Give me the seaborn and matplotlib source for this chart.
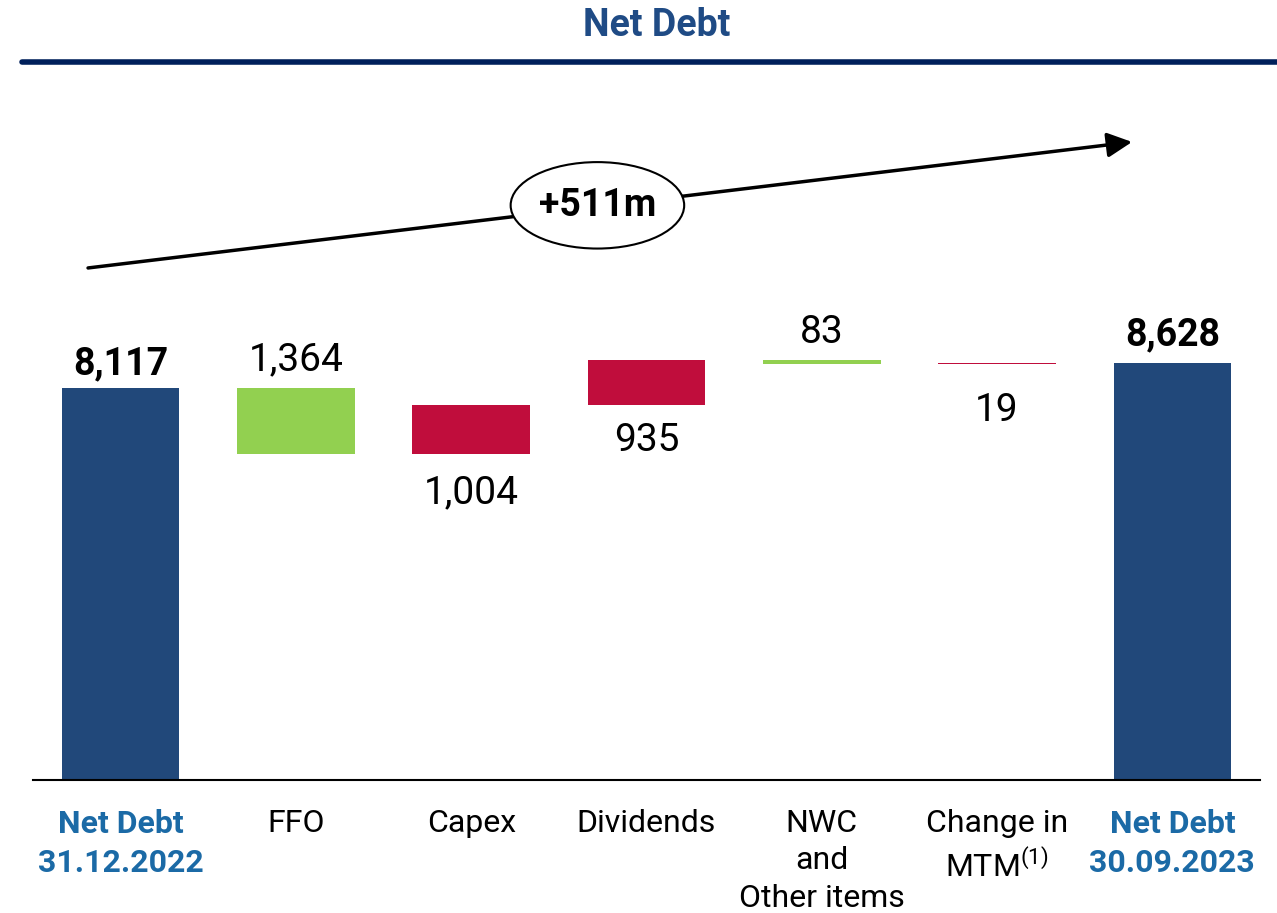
import numpy as np
import pandas as pd
import seaborn as sns
import matplotlib.pyplot as plt
from matplotlib.patches import Ellipse
from matplotlib.lines import Line2D

# data
categories = ["Net Debt\n31.12.2022", "FFO", "Capex", "Dividends",
              "NWC\nand\nOther items", "Change in\nMTM$^{(1)}$", "Net Debt\n30.09.2023"]
start_value = 8117
deltas = [-1364, 1004, 935, -83, 19]
end_value = 8628
total_change = "+511m"

navy = "#21487A"
green = "#92D050"
red = "#C00D3C"
label_blue = "#1B6AA6"

# waterfall: tops and bottoms of each bar
levels = np.cumsum([start_value] + deltas)
tops, bottoms, colors = [start_value], [0], [navy]
for i, d in enumerate(deltas):
    prev, cur = levels[i], levels[i + 1]
    tops.append(max(prev, cur))
    bottoms.append(min(prev, cur))
    colors.append(green if d < 0 else red)
tops.append(end_value)
bottoms.append(0)
colors.append(navy)

df = pd.DataFrame({"cat": categories, "top": tops, "bottom": bottoms})

sns.set_style("white")
plt.rcParams["font.family"] = ["Roboto", "DejaVu Sans"]
plt.rcParams["text.color"] = "black"
plt.rcParams["xtick.color"] = "black"
plt.rcParams["mathtext.fontset"] = "custom"
plt.rcParams["mathtext.rm"] = "Roboto"

fig = plt.figure(figsize=(12.77, 9.13), dpi=100)
ax = fig.add_axes([33 / 1277, 133 / 913, 1227 / 1277, 670 / 913])

sns.barplot(data=df, x="cat", y="top", hue="cat", palette=colors, legend=False,
            saturation=1, width=0.67, linewidth=0, ax=ax)
# hide the part under each floating bar
sns.barplot(data=df, x="cat", y="bottom", color="white", saturation=1,
            width=0.69, linewidth=0, ax=ax)

ax.set_xlim(-0.5, 6.5)
ax.set_ylim(0, 13874)
ax.set_xlabel("")
ax.set_ylabel("")
ax.set_yticks([])
for s in ["top", "right", "left"]:
    ax.spines[s].set_visible(False)
ax.spines["bottom"].set_color("black")
ax.spines["bottom"].set_linewidth(1.5)

ax.tick_params(axis="x", length=0, pad=21)
ax.set_xticks(range(len(categories)))
ax.set_xticklabels(categories, fontsize=23)
for i, t in enumerate(ax.get_xticklabels()):
    t.set_color("black")
    t.set_linespacing(1.36)
    if i in (0, len(categories) - 1):
        t.set_color(label_blue)
        t.set_fontweight("bold")

# value labels
values = [start_value] + [abs(d) for d in deltas] + [end_value]
above = [True, True, False, False, True, False, True]
offsets = [4, 7, -15, -12, 7, -20, 7]
for i, v in enumerate(values):
    bold = i in (0, len(values) - 1)
    if above[i]:
        ax.annotate(f"{v:,}", (i, tops[i]), xytext=(0, offsets[i]), textcoords="offset points",
                    ha="center", va="bottom", fontsize=27 if bold else 28,
                    fontweight="bold" if bold else "normal")
    else:
        ax.annotate(f"{v:,}", (i, bottoms[i]), xytext=(0, offsets[i]), textcoords="offset points",
                    ha="center", va="top", fontsize=28)

# overall change arrow and bubble
ax.annotate("", xy=(5.77, 13212), xytext=(-0.186, 10603), annotation_clip=False,
            arrowprops=dict(arrowstyle="-|>,head_length=0.5,head_width=0.25", lw=2.5,
                            color="black", mutation_scale=30, shrinkA=0, shrinkB=0))
ax.add_patch(Ellipse((2.72, 11900), 0.99, 1790, facecolor="white", edgecolor="black",
                     lw=1.5, zorder=5, clip_on=False))
ax.text(2.72, 11900, total_change, ha="center", va="center", fontsize=27,
        fontweight="bold", zorder=6)

# title and rule
fig.text(657 / 1277, 1 - 25 / 913, "Net Debt", ha="center", va="center", fontsize=27,
         fontweight="bold", color="#1F4B85")
fig.add_artist(Line2D([22 / 1277, 1], [1 - 62 / 913] * 2, lw=4, color="#00205B"))

fig.savefig("out.png", dpi=100)
